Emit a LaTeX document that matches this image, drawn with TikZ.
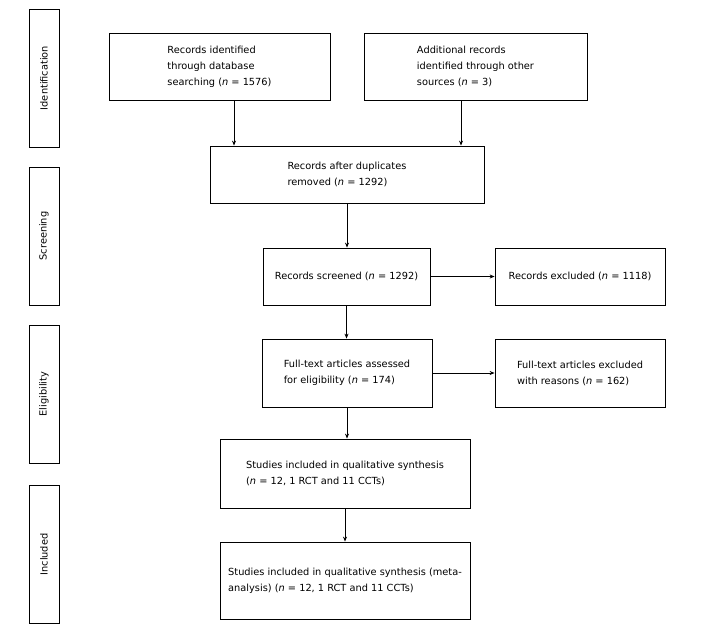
\documentclass[tikz,border=0pt]{standalone}
\usepackage{fontspec}
\setmainfont{DejaVu Sans}
\usepackage{tikz}
\usetikzlibrary{arrows.meta}
\usetikzlibrary{positioning}

\begin{document}
\begin{tikzpicture}[
    x=1pt, y=-1pt,
    every node/.style={draw, line width=0.8pt, inner sep=0pt, align=left,
        font=\fontsize{9.8}{16}\selectfont},
    phase/.style={rotate=90, minimum width=138pt, minimum height=30pt},
    arr/.style={-{Stealth[length=5pt, width=4pt]}},
    line width=0.8pt,
]
\useasboundingbox (0,0) rectangle (708,637);

% phases on the left
\node[phase] (ident) at (44,78) {Identification};
\node[phase] (screen) at (44,236) {Screening};
\node[phase] (elig) at (44,394) {Eligibility};
\node[phase] (incl) at (44,554.5) {Included};

% boxes
\node[minimum width=221pt, minimum height=67pt] (db) at (219.5,66.5)
    {Records identified\\through database\\searching (\textit{n} = 1576)};
\node[minimum width=223pt, minimum height=67pt] (other) at (475.5,66.5)
    {Additional records\\identified through other\\sources (\textit{n} = 3)};
\node[minimum width=274pt, minimum height=57pt] (dup) at (347,174.5)
    {Records after duplicates\\removed (\textit{n} = 1292)};
\node[minimum width=167pt, minimum height=57pt] (scr) at (346.5,276.5)
    {Records screened (\textit{n} = 1292)};
\node[minimum width=170pt, minimum height=57pt] (excl) at (580,276.5)
    {Records excluded (\textit{n} = 1118)};
\node[minimum width=170pt, minimum height=68pt] (full) at (347,373)
    {Full-text articles assessed\\for eligibility (\textit{n} = 174)};
\node[minimum width=170pt, minimum height=68pt] (fullex) at (580,373)
    {Full-text articles excluded\\with reasons (\textit{n} = 162)};
\node[minimum width=250pt, minimum height=69pt] (qual) at (345,473.5)
    {Studies included in qualitative synthesis\\(\textit{n} = 12, 1 RCT and 11 CCTs)};
\node[minimum width=250pt, minimum height=77pt] (meta) at (345,580.5)
    {Studies included in qualitative synthesis (meta-\\analysis) (\textit{n} = 12, 1 RCT and 11 CCTs)};

% arrows
\coordinate (dbout) at ([xshift=14.5pt]db.south);
\coordinate (otherout) at ([xshift=-14.5pt]other.south);
\draw[arr] (dbout) -- (dbout |- dup.north);
\draw[arr] (otherout) -- (otherout |- dup.north);
\draw[arr] (dup.south) -- (dup.south |- scr.north);
\draw[arr] (scr.east) -- (excl.west);
\draw[arr] (scr.south) -- (scr.south |- full.north);
\draw[arr] (full.east) -- (full.east -| fullex.west);
\draw[arr] (full.south) -- (full.south |- qual.north);
\draw[arr] (qual.south) -- (qual.south |- meta.north);
\end{tikzpicture}
\end{document}
